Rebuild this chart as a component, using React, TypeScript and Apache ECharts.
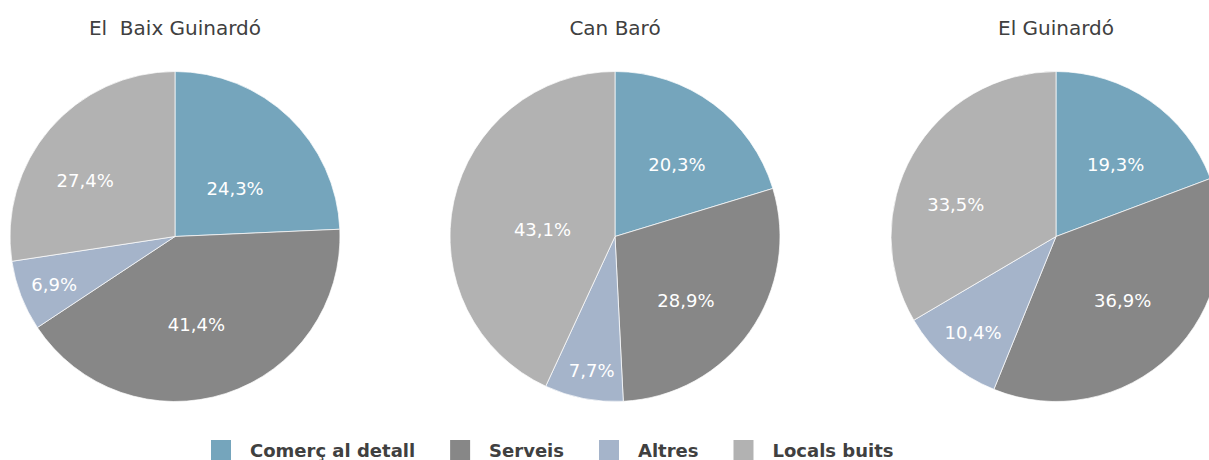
import React, { useEffect, useRef } from "react";
import * as echarts from "echarts";

const categories = ["Comerç al detall", "Serveis", "Altres", "Locals buits"];
const colors = ["#75A5BC", "#878787", "#A5B4CA", "#B2B2B2"];

const districts = ["El  Baix Guinardó", "Can Baró", "El Guinardó"];
const baixGuinardo = [24.3, 41.4, 6.9, 27.4];
const canBaro = [20.3, 28.9, 7.7, 43.1];
const guinardo = [19.3, 36.9, 10.4, 33.5];
const seriesValues = [baixGuinardo, canBaro, guinardo];

// layout / style
const centersX = [175, 615, 1056];
const centerY = 236.5;
const radius = 165;
const labelOffsets = [
  [[1, 14], [-5, 7], [-41, 17], [-25, 0]],
  [[11, -3], [1, 15], [-7, 50], [11, 11]],
  [[11, -2], [7, 3], [-27, 31], [-26, 10]],
];

const FONT = "DejaVu Sans";

export default function App() {
  const ref = useRef<HTMLDivElement>(null);
  useEffect(() => {
    if (!ref.current) return;
    const chart = echarts.init(ref.current, undefined, { renderer: "svg" });
    const fmt = (v: number) => `${v.toFixed(1).replace(".", ",")}%`;
    chart.setOption({
      animation: false,
      color: colors,
      graphic: districts.map((name, i) => ({
        type: "text",
        x: centersX[i],
        y: 27.5,
        style: {
          text: name,
          align: "center",
          verticalAlign: "middle",
          fontFamily: FONT,
          fontSize: 20,
          fill: "#404040",
        },
      })),
      legend: {
        left: 209,
        top: 438,
        padding: 0,
        icon: "rect",
        itemWidth: 22,
        itemHeight: 22,
        itemGap: 33,
        data: categories,
        selectedMode: false,
        textStyle: {
          fontFamily: FONT,
          fontSize: 18,
          fontWeight: "bold",
          color: "#404040",
          padding: [0, 0, 0, 13],
        },
      },
      series: seriesValues.map((vals, si) => ({
        type: "pie",
        center: [centersX[si], centerY],
        radius: [0, radius],
        startAngle: 90,
        clockwise: true,
        silent: true,
        itemStyle: { borderColor: "#ffffff", borderWidth: 0.7 },
        label: {
          show: true,
          position: "inside",
          color: "#ffffff",
          fontFamily: FONT,
          fontSize: 18,
          formatter: (p: any) => fmt(p.value),
        },
        labelLine: { show: false },
        data: vals.map((v, i) => ({
          name: categories[i],
          value: v,
          itemStyle: { color: colors[i] },
          label: { offset: labelOffsets[si][i] },
        })),
      })),
    });
    return () => chart.dispose();
  }, []);
  return (
    <div
      ref={ref}
      style={{ position: "absolute", left: 0, top: 0, width: 1209, height: 460, background: "#fff" }}
    />
  );
}
